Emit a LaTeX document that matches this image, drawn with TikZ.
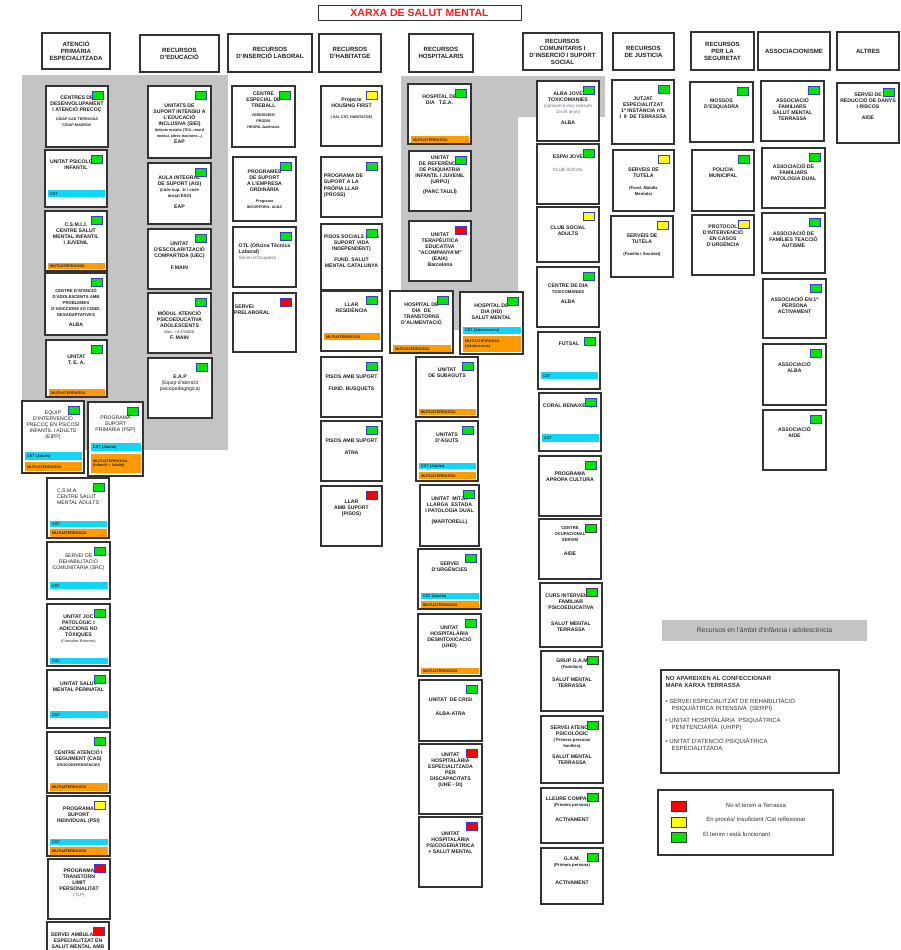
\documentclass[tikz,border=0pt]{standalone}
\usepackage{fontspec}
\setmainfont{Liberation Sans}

\definecolor{areagray}{HTML}{C4C4C4}
\definecolor{framegray}{HTML}{333333}
\definecolor{cstcyan}{HTML}{12D6F6}
\definecolor{mutorange}{HTML}{FF9A00}
\definecolor{okgreen}{HTML}{00E600}
\definecolor{midyellow}{HTML}{FFFF00}
\definecolor{nored}{HTML}{FF0000}
\definecolor{sqblue}{HTML}{3A3AD0}
\definecolor{notegray}{HTML}{666677}
\definecolor{titlered}{HTML}{FF1A1A}

\newcommand\nt{\mdseries}
\newcommand\sm{\fontsize{4.2}{5}\selectfont}
\newcommand\mn{\fontsize{3.7}{4.4}\selectfont}
\newcommand\gr{\fontsize{4.6}{5.4}\selectfont\mdseries\color{notegray}}
\newcommand\llines[1]{\begin{tabular}{@{}l@{}}#1\end{tabular}}

\tikzset{
  head/.style={draw=framegray, line width=1.2pt, inner sep=0pt, align=center,
    font=\fontsize{6.1}{7}\selectfont\bfseries, text=black!88},
  resbox/.style={draw=framegray, line width=1.2pt, fill=white, inner sep=0pt},
  restxt/.style={inner sep=0pt, align=center, font=\fontsize{5.15}{6}\selectfont\bfseries, text=black!88},
  stbase/.style={draw=sqblue, line width=.8pt, minimum width=11pt, minimum height=8pt, inner sep=0pt},
  stgreen/.style={stbase, fill=okgreen},
  stgreenk/.style={stbase, fill=okgreen, draw=black!75},
  styellow/.style={stbase, fill=midyellow},
  stred/.style={stbase, fill=nored},
  resbar/.style={inner xsep=2pt, inner ysep=0pt, align=left,
    font=\fontsize{3.8}{4.3}\selectfont\bfseries, text=black!85},
  legsq/.style={draw=black!80, line width=.8pt, minimum width=15pt, minimum height=10pt, inner sep=0pt},
  legtxt/.style={inner sep=0pt, font=\fontsize{6}{7}\selectfont, text=black!80},
}

% [text offset]{name}{x1}{y1}{x2}{y2}{status}{text}
\newcommand\resbox[8][14]{%
  \pgfmathsetmacro\rsW{#5-#3}\pgfmathsetmacro\rsH{#6-#4}%
  \pgfmathsetmacro\rsX{(#3+#5)/2}\pgfmathsetmacro\rsY{(#4+#6)/2}%
  \pgfmathsetmacro\rsT{3-#1}%
  \def\rsA{#3}\def\rsB{#5}%
  \node[resbox, minimum width=\rsW pt, minimum height=\rsH pt] (#2) at (\rsX,\rsY) {};
  \node[restxt, anchor=north] (#2t) at ([yshift=\rsT pt]#2.north) {#8};
  \node[#7, anchor=north east] (#2s) at ([xshift=-5pt,yshift=-6pt]#2.north east) {};
}
% {name}{y1}{y2}{colour}{text}, inside the last box
\newcommand\resbar[5]{%
  \pgfmathsetmacro\rsW{\rsB-\rsA-5}\pgfmathsetmacro\rsH{#3-#2}%
  \pgfmathsetmacro\rsTW{\rsB-\rsA-9}\pgfmathsetmacro\rsX{\rsA+3}%
  \node[resbar, fill=#4, anchor=north west, minimum width=\rsW pt,
    minimum height=\rsH pt, text width=\rsTW pt] (#1) at (\rsX,#2) {#5};
}

\begin{document}
\begin{tikzpicture}[x=1pt, y=-1pt]
\useasboundingbox (0,0) rectangle (900,950);
\clip (0,0) rectangle (900,950);

\fill[areagray] (22,75) rectangle (228,450);
\fill[areagray] (401,76) -- (605,76) -- (605,117) -- (518,117) -- (518,330) -- (401,330) -- cycle;

\node[draw=framegray, line width=.9pt, inner sep=0pt, minimum width=203pt, minimum height=15pt,
  text=titlered, font=\fontsize{10.5}{12}\selectfont\bfseries] (title) at (419.5,12.5) {XARXA DE SALUT MENTAL};

% headers
\node[head, minimum width=68pt, minimum height=36pt] (hdPrim) at (76,51) {ATENCIÓ\\PRIMÀRIA\\ESPECIALITZADA};
\node[head, minimum width=79pt, minimum height=37pt] (hdEdu) at (179.5,53.5) {RECURSOS\\D'EDUCACIÓ};
\node[head, minimum width=84pt, minimum height=38pt] (hdIns) at (270,53) {RECURSOS\\D'INSERCIÓ LABORAL};
\node[head, minimum width=62pt, minimum height=38pt] (hdHab) at (350,53) {RECURSOS\\D'HABITATGE};
\node[head, minimum width=64pt, minimum height=38pt] (hdHos) at (441,53) {RECURSOS\\HOSPITALARIS};
\node[head, minimum width=79pt, minimum height=37pt] (hdCom) at (562.5,51.5) {RECURSOS\\COMUNITARIS I\\D'INSERCIÓ I SUPORT\\SOCIAL};
\node[head, minimum width=61pt, minimum height=37pt] (hdJus) at (643.5,51.5) {RECURSOS\\DE JUSTICIA};
\node[head, minimum width=63pt, minimum height=38pt] (hdSeg) at (722.5,51) {RECURSOS\\PER LA\\SEGURETAT};
\node[head, minimum width=72pt, minimum height=38pt] (hdAss) at (794,51) {ASSOCIACIONISME};
\node[head, minimum width=62pt, minimum height=38pt] (hdAlt) at (868,51) {ALTRES};

% atencio primaria especialitzada
\resbox[13]{apCdiap}{46}{86}{108}{147}{stgreen}{CENTRES DE\\DESENVOLUPAMENT\\I ATENCIÓ PRECOÇ\\[3pt]\mn CDIAP CAD TERRASSA\\\mn CDIAP MADROC}
\resbox[13]{apPsiInf}{45}{150}{107}{207}{stgreen}{UNITAT PSICOLOGIA\\INFANTIL}
\resbar{apPsiInfC}{190}{197}{cstcyan}{CST}
\resbox[15]{apCsmij}{45}{211}{107}{271}{stgreen}{C.S.M.I.J.\\CENTRE SALUT\\MENTAL INFANTIL\\I JUVENIL}
\resbar{apCsmijM}{263}{269}{mutorange}{MUTUATERRASSA}
\resbox[19]{apAdol}{45}{273}{107}{335}{stgreen}{\sm CENTRE D'ATENCIÓ\\\sm D'ADOLESCENTS AMB\\\sm PROBLEMES\\\sm D'ADICCIONS I/O COND.\\\sm DESADAPTATIVES\\[4pt]ALBA}
\resbox[18]{apTea}{46}{340}{107}{397}{stgreen}{UNITAT\\T. E. A.}
\resbar{apTeaM}{389}{396}{mutorange}{MUTUATERRASSA}
\resbox[13]{apEipp}{22}{401}{84}{473}{stgreen}{\nt EQUIP\\\nt D'INTERVENCIÓ\\\nt PRECOÇ EN PSICOSI\\\nt INFANTIL I ADULTS\\\nt (EIPP)}
\resbar{apEippC}{452}{460}{cstcyan}{CST (Adults)}
\resbar{apEippM}{462}{471}{mutorange}{MUTUATERRASSA}
\resbox[17]{apPsp}{88}{402}{143}{476}{stgreen}{\nt PROGRAMA\\\nt SUPORT\\\nt PRIMARIA (PSP)}
\resbar{apPspC}{443}{451}{cstcyan}{CST (Adults)}
\resbar{apPspM}{454}{473}{mutorange}{MUTUATERRASSA\\(Infantil + Adults)}
\resbox[14]{apCsma}{47}{478}{109}{538}{stgreen}{\llines{\nt C.S.M.A.\\\nt CENTRE SALUT\\\nt MENTAL ADULTS}}
\resbar{apCsmaC}{521}{527}{cstcyan}{CST}
\resbar{apCsmaM}{529}{537}{mutorange}{MUTUATERRASSA}
\resbox[15]{apSrc}{47}{542}{110}{599}{stgreen}{\nt SERVEI DE\\\nt REHABILITACIÓ\\\nt COMUNITÀRIA (SRC)}
\resbar{apSrcC}{582}{589}{cstcyan}{CST}
\resbox[14]{apJoc}{47}{604}{110}{666}{stgreen}{UNITAT JOC\\PATOLÒGIC I\\ADICCIONS NO\\TÒXIQUES\\\mn\nt (Consultes Externes)}
\resbar{apJocC}{658}{664}{cstcyan}{CST}
\resbox[15]{apPerin}{47}{670}{110}{728}{stgreen}{UNITAT SALUT\\MENTAL PERINATAL}
\resbar{apPerinC}{711}{718}{cstcyan}{CST}
\resbox[21]{apCas}{47}{732}{110}{793}{stgreen}{CENTRE ATENCIÓ I\\SEGUIMENT (CAS)\\\mn DROGODEPENDÈNCIES}
\resbar{apCasM}{783}{791}{mutorange}{MUTUATERRASSA}
\resbox[14]{apPsi}{47}{796}{110}{856}{styellow}{PROGRAMA\\SUPORT\\INDIVIDUAL (PSI)}
\resbar{apPsiC}{839}{845}{cstcyan}{CST}
\resbar{apPsiM}{847}{855}{mutorange}{MUTUATERRASSA}
\resbox[13]{apTlp}{48}{859}{110}{919}{stred}{PROGRAMA\\TRANSTORN\\LIMIT\\PERSONALITAT\\\gr (TLP)}
\resbox[14]{apAmb}{47}{922}{109}{985}{stred}{SERVEI AMBULATORI\\ESPECIALITZAT EN\\SALUT MENTAL AMB}

% educacio
\resbox[21]{edSiei}{148}{86}{211}{158}{stgreen}{UNITATS DE\\SUPORT INTENSIU A\\L'EDUCACIÓ\\INCLUSIVA (SIEI)\\\mn (Infants malalts (TEA, retard\\\mn mental, altres trastorns...)\\EAP}
\resbox[16]{edAis}{148}{163}{211}{224}{stgreen}{AULA INTEGRAL\\DE SUPORT (AIS)\\\sm (cicle sup. 1r i cicle\\\sm inicial ESO)\\[5pt]EAP}
\resbox[16]{edUec}{148}{229}{211}{289}{stgreen}{UNITAT\\D'ESCOLARITZACIÓ\\COMPARTIDA (UEC)\\[6pt]F.MAIN}
\resbox[21]{edModul}{148}{293}{211}{353}{stgreen}{MÒDUL ATENCIÓ\\PSICOEDUCATIVA\\ADOLESCENTS\\\mn\nt (Dec. I-II-27/2003)\\F. MAIN}
\resbox[20]{edEap}{148}{358}{212}{418}{stgreen}{E.A.P\\\nt (Equip d'atenció\\\nt psicopedagògica)}

% insercio laboral
\resbox[9]{inCet}{232}{86}{295}{147}{stgreen}{CENTRE\\ESPECIAL DE\\TREBALL\\[3pt]\mn VERDISSENY\\\mn PRODIS\\\mn HEURA-Jardineria}
\resbox[16]{inEmp}{233}{157}{296}{221}{stgreen}{PROGRAMES\\DE SUPORT\\A L'EMPRESA\\ORDINÀRIA\\[5pt]\mn Programa\\\mn INCORPORA: ALBA}
\resbox[20]{inOtl}{233}{227}{296}{287}{stgreen}{\llines{OTL (Oficina Tècnica\\Laboral)\\\gr Servei d'Ocupació}}
\resbox[15]{inPre}{233}{293}{296}{352}{stred}{\llines{\,SERVEI\\PRELABORAL}\hspace*{25pt}}

% habitatge
\resbox[15]{haHf}{321}{86}{382}{146}{styellow}{Projecte\\HOUSING FIRST\\[5pt]\mn ( SAI, CST, HABITATGE)}
\resbox[20]{haPross}{321}{157}{382}{217}{stgreen}{\llines{PROGRAMA DE\\SUPORT A LA\\PRÒPIA LLAR\\(PROSS)}\hspace*{16pt}}
\resbox[14]{haPisos}{321}{224}{382}{290}{stgreen}{PISOS SOCIALS (AMB\\SUPORT VIDA\\INDEPENDENT)\\[5pt]FUND. SALUT\\MENTAL CATALUNYA}
\resbox[15]{haLlarRes}{321}{291}{382}{351}{stgreen}{LLAR\\RESIDÈNCIA}
\resbar{haLlarResM}{333}{340}{mutorange}{MUTUATERRASSA}
\resbox[21]{haBusq}{321}{357}{382}{417}{stgreen}{PISOS AMB SUPORT\\[6pt]FUND. BUSQUETS}
\resbox[21]{haAtra}{321}{421}{382}{481}{stgreen}{PISOS AMB SUPORT\\[6pt]ATRA}
\resbox[17]{haLlarSup}{321}{486}{382}{546}{stred}{LLAR\\AMB SUPORT\\(PISOS)}

% hospitalaris
\resbox[14]{hoTea}{408}{84}{471}{144}{stgreen}{HOSPITAL DE\\DIA \ \ T.E.A.}
\resbar{hoTeaM}{136}{143}{mutorange}{MUTUATERRASSA}
\resbox[8]{hoUrpij}{409}{151}{471}{211}{stgreen}{UNITAT\\DE REFERÈNCIA\\DE PSIQUIATRIA\\INFANTIL I JUVENIL\\(URPIJ)\\[4pt](PARC TAULÍ)}
\resbox[15]{hoEaia}{409}{221}{471}{281}{stred}{UNITAT\\TERAPÈUTICA\\EDUCATIVA\\"ACOMPANYA'M"\\(EAIA)\\Barcelona}
\resbox[15]{hoTca}{390}{291}{453}{353}{stgreen}{HOSPITAL DE\\DIA \ DE\\TRANSTORNS\\D'ALIMENTACIÓ}
\resbar{hoTcaM}{345}{352}{mutorange}{MUTUATERRASSA}
\resbox[15]{hoHd}{460}{292}{523}{354}{stgreen}{HOSPITAL DE\\DIA (HD)\\SALUT MENTAL}
\resbar{hoHdC}{327}{334}{cstcyan}{CST (Adolescents)}
\resbar{hoHdM}{336}{352}{mutorange}{MUTUATERRASSA\\(Adolescents)}
\resbox[14]{hoSub}{416}{357}{478}{417}{stgreen}{UNITAT\\DE SUBAGUTS}
\resbar{hoSubM}{409}{415}{mutorange}{MUTUATERRASSA}
\resbox[15]{hoAg}{416}{421}{478}{481}{stgreen}{UNITATS\\D'AGUTS}
\resbar{hoAgC}{463}{469}{cstcyan}{CST (Adults)}
\resbar{hoAgM}{472}{479}{mutorange}{MUTUATERRASSA}
\resbox[15]{hoMle}{420}{485}{479}{546}{stgreen}{UNITAT \ MITJA\\LLARGA \ ESTADA\\I PATOLOGIA DUAL\\[5pt](MARTORELL)}
\resbox[16]{hoUrg}{418}{549}{481}{609}{stgreen}{SERVEI\\D'URGÈNCIES}
\resbar{hoUrgC}{593}{599}{cstcyan}{CST (Adults)}
\resbar{hoUrgM}{601}{608}{mutorange}{MUTUATERRASSA}
\resbox[15]{hoUhd}{418}{614}{481}{676}{stgreen}{UNITAT\\HOSPITALÀRIA\\DESINTOXICACIÓ\\(UHD)}
\resbar{hoUhdM}{668}{674}{mutorange}{MUTUATERRASSA}
\resbox[21]{hoCri}{419}{680}{482}{741}{stgreen}{UNITAT \ DE CRISI\\[8pt]ALBA-ATRA}
\resbox[12]{hoUhe}{419}{744}{482}{814}{stred}{UNITAT\\HOSPITALÀRIA\\ESPECIALITZADA\\PER\\DISCAPACITATS\\(UHE - DI)}
\resbox[18]{hoPsg}{419}{817}{482}{887}{stred}{UNITAT\\HOSPITALÀRIA\\PSICOGERIÀTRICA\\+ SALUT MENTAL}

% comunitaris
\resbox[14]{coAlbaJ}{537}{81}{599}{141}{stgreen}{ALBA JOVE\\TOXICOMANIES\\\gr (consum o inici consum\\\gr 13-24 anys)\\[5pt]ALBA}
\resbox[14]{coEspai}{537}{144}{599}{204}{stgreen}{ESPAI JOVE\\[7pt]\gr CLUB SOCIAL}
\resbox[22]{coClub}{537}{207}{599}{262}{styellow}{CLUB SOCIAL\\ADULTS}
\resbox[20]{coCdt}{537}{267}{599}{327}{stgreen}{CENTRE DE DIA\\\sm TOXICOMANIES\\[4pt]ALBA}
\resbox[13]{coFut}{538}{332}{600}{389}{stgreen}{FUTSAL}
\resbar{coFutC}{372}{379}{cstcyan}{CST}
\resbox[14]{coCoral}{539}{393}{601}{451}{stgreen}{CORAL RENAIXENÇA}
\resbar{coCoralC}{434}{442}{cstcyan}{CST}
\resbox[19]{coApropa}{539}{456}{601}{516}{stgreen}{PROGRAMA\\APROPA CULTURA}
\resbox[11]{coServim}{539}{519}{601}{579}{stgreenk}{\sm CENTRE\\\sm OCUPACIONAL\\\sm SERVIM\\[8pt]AIDE}
\resbox[13]{coCurs}{540}{583}{602}{647}{stgreenk}{CURS INTERVENCIÓ\\FAMILIAR\\PSICOEDUCATIVA\\[10pt]SALUT MENTAL\\TERRASSA}
\resbox[11]{coGamF}{541}{651}{603}{711}{stgreenk}{GRUP G.A.M\\\sm (Familiars)\\[7pt]SALUT MENTAL\\TERRASSA}
\resbox[12]{coSap}{541}{716}{603}{783}{stgreenk}{SERVEI ATENCIÓ\\PSICOLÒGIC\\\sm ( Primera persona/\\\sm famílies)\\[5pt]SALUT MENTAL\\TERRASSA}
\resbox[12]{coLleure}{541}{788}{603}{843}{stgreenk}{LLEURE COMPARTIT\\\sm (Primera persona)\\[9pt]ACTIVAMENT}
\resbox[12]{coGam}{541}{848}{603}{904}{stgreenk}{G.A.M.\\\sm (Primera persona)\\[12pt]ACTIVAMENT}

% justicia
\resbox[20]{juJut}{612}{80}{674}{144}{stgreen}{JUTJAT\\ESPECIALITZAT\\1ª INSTÀNCIA nº6\\I \ 9 \ DE TERRASSA}
\resbox[21]{juTutA}{613}{150}{674}{211}{styellow}{SERVEIS DE\\TUTELA\\[6pt]\sm (Fund. Malalts\\\sm Mentals)}
\resbox[21]{juTutB}{611}{216}{673}{277}{styellow}{SERVEIS DE\\TUTELA\\[6pt]\sm (Família i Societat)}

% seguretat
\resbox[20]{seMos}{690}{82}{753}{142}{stgreen}{MOSSOS\\D'ESQUADRA}
\resbox[21]{sePol}{692}{150}{754}{211}{stgreen}{POLICIA\\MUNICIPAL}
\resbox[13]{seProt}{692}{215}{754}{275}{styellow}{PROTOCOL\\D'INTERVENCIÓ\\EN CASOS\\D'URGÈNCIA}

% associacionisme
\resbox[20]{asFam}{761}{81}{824}{141}{stgreen}{ASSOCIACIÓ\\FAMILIARS\\SALUT MENTAL\\TERRASSA}
\resbox[19]{asDual}{762}{148}{825}{208}{stgreen}{ASSOCIACIÓ DE\\FAMILIARS\\PATOLOGIA DUAL}
\resbox[21]{asTea}{762}{213}{825}{273}{stgreen}{ASSOCIACIÓ DE\\FAMÍLIES TEACCIÓ\\AUTISME}
\resbox[21]{asAct}{763}{279}{826}{338}{stgreen}{ASSOCIACIÓ EN 1ª\\PERSONA\\ACTIVAMENT}
\resbox[21]{asAlba}{763}{344}{826}{405}{stgreen}{ASSOCIACIÓ\\ALBA}
\resbox[20]{asAide}{763}{410}{826}{470}{stgreen}{ASSOCIACIÓ\\AIDE}

% altres
\resbox[13]{alRed}{837}{83}{899}{143}{stgreen}{SERVEI DE\\REDUCCIÓ DE DANYS\\I RISCOS\\[5pt]AIDE}

\node[fill=areagray, inner sep=0pt, minimum width=205pt, minimum height=21pt,
  font=\fontsize{6.8}{8}\selectfont, text=black!75] (infant) at (764.5,630.5) {Recursos en l'àmbit d'infància i adolescència};

\node[resbox, minimum width=178pt, minimum height=103pt] (noMap) at (750,721.5) {};
\node[legtxt, anchor=north west, align=left] (noMapt) at ([xshift=5pt,yshift=-7pt]noMap.north west)
  {\textbf{NO APAREIXEN AL CONFECCIONAR}\\\textbf{MAPA XARXA TERRASSA}\\[9pt]
   • SERVEI ESPECIALITZAT DE REHABILITACIÓ\\\hspace*{6pt}PSIQUIÀTRICA INTENSIVA \ (SERPI)\\[5pt]
   • UNITAT HOSPITALÀRIA \ PSIQUIÀTRICA\\\hspace*{6pt}PENITENCIÀRIA \ (UHPP)\\[7pt]
   • UNITAT D'ATENCIÓ PSIQUIÀTRICA\\\hspace*{6pt}ESPECIALITZADA};

\node[resbox, minimum width=175pt, minimum height=65pt] (legend) at (745.5,822.5) {};
\node[legsq, fill=nored] (legNo) at (678.5,806) {};
\node[legsq, fill=midyellow] (legMid) at (678.5,822) {};
\node[legsq, fill=okgreen] (legOk) at (678.5,837.5) {};
\node[legtxt] (legNot) at (756,805) {No el tenim a Terrassa};
\node[legtxt] (legMidt) at (756,820) {En procés/ Insuficient /Cal reflexionar};
\node[legtxt, anchor=west] (legOkt) at (703,834) {El tenim i està funcionant};

\end{tikzpicture}
\end{document}
